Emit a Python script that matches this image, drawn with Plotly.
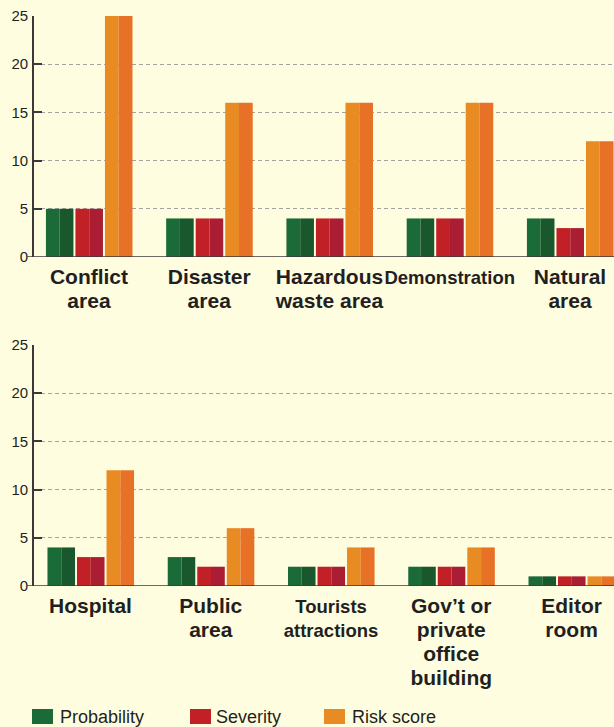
import plotly.graph_objects as go

# ---------------- data ----------------
series_names = ["Probability", "Severity", "Risk score"]

top_categories = ["Conflict area", "Disaster area", "Hazardous waste area", "Demonstration", "Natural area"]
top_labels = ["Conflict<br>area", "Disaster<br>area", "Hazardous<br>waste area", "Demonstration", "Natural<br>area"]
top_small = [False, False, False, True, False]
top_probability = [5, 4, 4, 4, 4]
top_severity = [5, 4, 4, 4, 3]
top_risk = [25, 16, 16, 16, 12]

bottom_categories = ["Hospital", "Public area", "Tourists attractions", "Gov't or private office building", "Editor room"]
bottom_labels = ["Hospital", "Public<br>area", "Tourists<br>attractions",
                 "Gov’t or<br>private<br>office<br>building", "Editor<br>room"]
bottom_small = [False, False, True, False, False]
bottom_probability = [4, 3, 2, 2, 1]
bottom_severity = [3, 2, 2, 2, 1]
bottom_risk = [12, 6, 4, 4, 1]

y_ticks = [0, 5, 10, 15, 20, 25]

# ---------------- style ----------------
W, H = 614, 727
BG = "#fffde0"
TXT = "#231f20"
AX = "#3b3838"
FONT = "Liberation Sans, Arial, sans-serif"
light = ["#1b6b38", "#c12026", "#e98b23"]
dark = ["#19582d", "#aa1d33", "#e77227"]

bar_w = 0.229
pitch = 0.2455
start0 = -0.358


def fmt(labels, small):
    return ["<span style='font-size:%spx'><b>%s</b></span>" % ("18.5" if s else "21", t)
            for t, s in zip(labels, small)]


fig = go.Figure()


def add_panel(cats, vals_list, xref, yref):
    for k, vals in enumerate(vals_list):
        s = start0 + k * pitch
        for half, col in enumerate([light[k], dark[k]]):
            fig.add_trace(go.Bar(
                x=cats, y=vals, width=bar_w / 2, offset=s + half * bar_w / 2,
                marker=dict(color=col, line=dict(width=0)),
                xaxis=xref, yaxis=yref, showlegend=False,
                name=series_names[k], hoverinfo="x+y+name"))


add_panel(top_categories, [top_probability, top_severity, top_risk], "x", "y")
add_panel(bottom_categories, [bottom_probability, bottom_severity, bottom_risk], "x2", "y2")


def ydom(top_px, bot_px):
    return [(H - bot_px) / H, (H - top_px) / H]


xdom = [34 / W, 1.0]

common_x = dict(type="category", showline=False, ticks="", showgrid=False, zeroline=False,
                tickfont=dict(family=FONT, size=18.5, color=TXT), tickangle=0, automargin=False,
                ticklabelstandoff=7, fixedrange=True)
common_y = dict(range=[0, 25], tickvals=y_ticks, showline=True, linecolor=AX, linewidth=1.6,
                ticks="inside", ticklen=8, tickwidth=1.6, tickcolor=AX, automargin=False,
                showgrid=True, gridcolor="#a3a3a3", gridwidth=1.2, griddash="4px,3px",
                zeroline=False, ticklabelstandoff=1, fixedrange=True,
                tickfont=dict(family=FONT, size=15, color=TXT))

fig.update_layout(
    width=W, height=H, margin=dict(l=0, r=0, t=0, b=0, autoexpand=False),
    paper_bgcolor=BG, plot_bgcolor=BG, barmode="overlay", showlegend=False,
    xaxis=dict(common_x, domain=xdom, anchor="y", range=[-0.457, 4.366],
               tickvals=top_categories, ticktext=fmt(top_labels, top_small)),
    yaxis=dict(common_y, domain=ydom(16, 257), anchor="x"),
    xaxis2=dict(common_x, domain=xdom, anchor="y2", range=[-0.47, 4.353],
                tickvals=bottom_categories, ticktext=fmt(bottom_labels, bottom_small)),
    yaxis2=dict(common_y, domain=ydom(345, 586), anchor="x2"),
)

# baselines (extend slightly left of the y axis)
for yr in ["y", "y2"]:
    fig.add_shape(type="line", xref="paper", yref=yr, x0=27 / W, x1=1.0, y0=0, y1=0,
                  line=dict(color=AX, width=1.6), layer="above")

# legend
leg_y0, leg_y1 = (H - 724) / H, (H - 709) / H
for k, (x0, x1, tx) in enumerate([(32, 53, 58), (190, 211, 214), (324, 345, 350)]):
    fig.add_shape(type="rect", xref="paper", yref="paper", x0=x0 / W, x1=x1 / W,
                  y0=leg_y0, y1=leg_y1, fillcolor=light[k], line=dict(width=0))
    fig.add_annotation(xref="paper", yref="paper", x=tx / W, y=(H - 717) / H,
                       xanchor="left", yanchor="middle", showarrow=False,
                       text=series_names[k],
                       font=dict(family=FONT, size=18, color=TXT))

fig.write_html("out.html", config={"displayModeBar": False},
               post_script="document.body.style.margin='0';document.body.style.background='%s';" % BG)
